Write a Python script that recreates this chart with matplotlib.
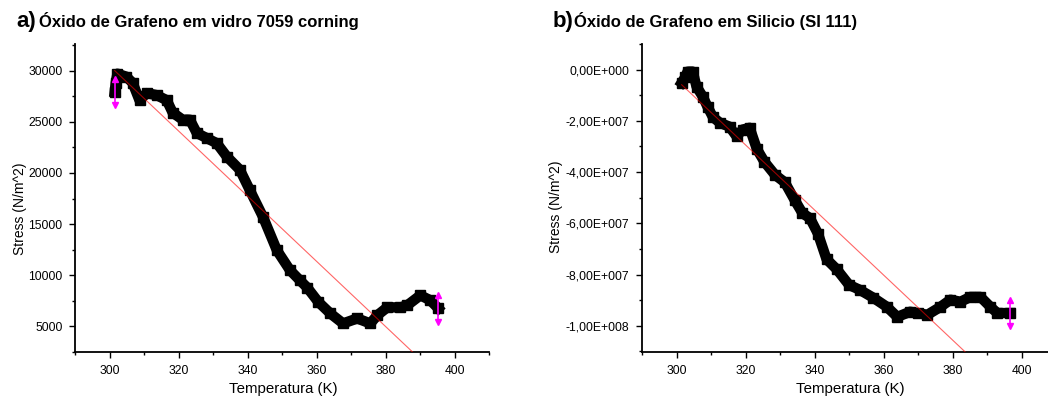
import matplotlib.pyplot as plt
from matplotlib.ticker import MultipleLocator, FuncFormatter

plt.rcParams['font.family'] = ['Liberation Sans', 'DejaVu Sans']

# a) Oxido de Grafeno em vidro 7059 corning
temp_a = [301.5, 301.8, 302.3, 304.9, 306.7, 308.7, 310.8, 313.7, 316.6, 318.3,
          321.2, 323.3, 325.3, 328.2, 331.1, 334.0, 337.8, 340.7, 344.5, 348.5,
          352.3, 355.2, 357.3, 360.5, 364.0, 367.7, 371.8, 375.6, 377.6, 380.5,
          384.3, 386.3, 390.1, 393.0, 395.3]
stress_a = [27900, 28800, 29700, 29400, 28800, 27100, 27800, 27600, 27100, 25900,
            25200, 25200, 23900, 23400, 22900, 21600, 20300, 18300, 15700, 12450,
            10500, 9500, 8800, 7400, 6270, 5290, 5780, 5290, 6080, 6860,
            6860, 7060, 8040, 7550, 6760]
fit_t_a = [301.5, 388.0]
fit_s_a = [30000, 2450]
err_t_a = [301.5, 395.3]
err_s_a = [27900, 6760]
err_a = [1300, 1300]

# b) Oxido de Grafeno em Silicio (SI 111)
temp_b = [301.5, 302.5, 303.2, 304.7, 305.8, 307.6, 309.0, 310.5, 312.5, 315.4,
          317.4, 319.2, 321.2, 323.3, 325.5, 328.5, 331.4, 334.3, 336.5, 338.7,
          341.0, 343.5, 346.5, 350.0, 353.2, 357.0, 361.0, 364.0, 367.7, 370.0,
          372.7, 376.5, 379.4, 382.3, 385.2, 388.1, 391.0, 393.0, 396.8]
stress_b = [-0.51, -0.3, -0.08, -0.08, -0.66, -1.05, -1.45, -1.84, -2.07, -2.23,
            -2.6, -2.34, -2.27, -3.1, -3.6, -4.1, -4.4, -5.1, -5.6, -5.8,
            -6.4, -7.4, -7.8, -8.4, -8.6, -8.9, -9.26, -9.65, -9.45, -9.5,
            -9.57, -9.26, -8.98, -9.06, -8.87, -8.87, -9.26, -9.5, -9.5]
stress_b = [v * 1e7 for v in stress_b]
fit_t_b = [301.5, 383.7]
fit_s_b = [-0.59e7, -11.02e7]
err_t_b = [396.8]
err_s_b = [-9.5e7]
err_b = [0.49e7]


def fmt_e(v, pos):
    if v == 0:
        return '0,00E+000'
    s = '%.2E' % v
    mant, exp = s.split('E')
    return '%sE%s%03d' % (mant.replace('.', ','), exp[0], abs(int(exp)))


fig = plt.figure(figsize=(10.48, 3.99), dpi=100)
ax1 = fig.add_axes([75 / 1048, 1 - 352 / 399, 414 / 1048, 308 / 399])
ax2 = fig.add_axes([642 / 1048, 1 - 352 / 399, 414 / 1048, 308 / 399])

panels = [
    (ax1, temp_a, stress_a, fit_t_a, fit_s_a, err_t_a, err_s_a, err_a),
    (ax2, temp_b, stress_b, fit_t_b, fit_s_b, err_t_b, err_s_b, err_b),
]
for ax, t, s, ft, fs, et, es, ee in panels:
    ax.plot(t, s, color='black', lw=7.5, marker='s', ms=7.5, zorder=2)
    ax.plot(ft, fs, color='red', lw=0.8, alpha=0.6, zorder=3)
    ax.errorbar(et, es, yerr=ee, fmt='none', ecolor='#ff00ff', elinewidth=1.2, zorder=4)
    ax.plot(et, [a + b for a, b in zip(es, ee)], '^', color='#ff00ff', ms=4, zorder=4)
    ax.plot(et, [a - b for a, b in zip(es, ee)], 'v', color='#ff00ff', ms=4, zorder=4)
    ax.set_xlim(290, 410)
    ax.xaxis.set_major_locator(MultipleLocator(20))
    ax.xaxis.set_minor_locator(MultipleLocator(10))
    for sp in ['top', 'right']:
        ax.spines[sp].set_visible(False)
    for sp in ['left', 'bottom']:
        ax.spines[sp].set_linewidth(1.3)
    ax.tick_params(which='major', direction='out', length=4, width=1, labelsize=8.7, pad=5)
    ax.tick_params(which='minor', direction='out', length=2.5, width=1)

ax1.set_ylim(2500, 32600)
ax1.yaxis.set_major_locator(MultipleLocator(5000))
ax1.yaxis.set_minor_locator(MultipleLocator(2500))

ax2.set_ylim(-1.102e8, 1.0e7)
ax2.yaxis.set_major_locator(MultipleLocator(2e7))
ax2.yaxis.set_minor_locator(MultipleLocator(1e7))
ax2.yaxis.set_major_formatter(FuncFormatter(fmt_e))

# titles
fig.text(16 / 1048, 1 - 27 / 399, 'a)', fontsize=16, fontweight='bold')
fig.text(39 / 1048, 1 - 27 / 399, 'Óxido de Grafeno em vidro 7059 corning', fontsize=12, fontweight='bold')
fig.text(553 / 1048, 1 - 27 / 399, 'b)', fontsize=16, fontweight='bold')
fig.text(574 / 1048, 1 - 27 / 399, 'Óxido de Grafeno em Silicio (SI 111)', fontsize=12, fontweight='bold')

# axis labels
fig.text(20 / 1048, 1 - 209 / 399, 'Stress (N/m^2)', rotation=90, ha='center', va='center', fontsize=10)
fig.text(556 / 1048, 1 - 207 / 399, 'Stress (N/m^2)', rotation=90, ha='center', va='center', fontsize=10)
fig.text(283 / 1048, 1 - 389 / 399, 'Temperatura (K)', ha='center', va='center', fontsize=10.8)
fig.text(850 / 1048, 1 - 389 / 399, 'Temperatura (K)', ha='center', va='center', fontsize=10.8)

fig.savefig('out.png', dpi=100)
